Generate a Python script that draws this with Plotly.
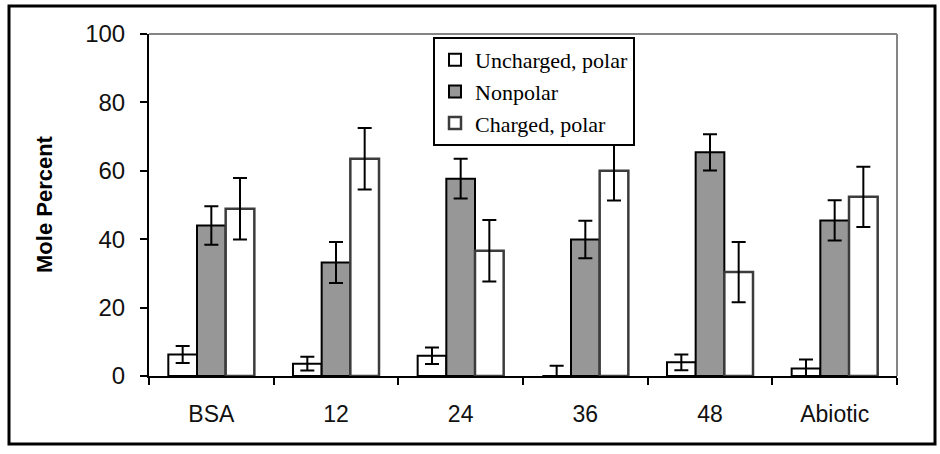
import plotly.graph_objects as go

categories = ["BSA", "12", "24", "36", "48", "Abiotic"]

uncharged = [6.3, 3.6, 5.9, 0.0, 4.0, 2.2]
uncharged_err = [2.5, 2.0, 2.4, 3.0, 2.3, 2.6]

nonpolar = [44.0, 33.2, 57.7, 39.9, 65.4, 45.5]
nonpolar_err = [5.6, 6.0, 5.8, 5.5, 5.3, 5.9]

charged = [48.9, 63.5, 36.6, 60.0, 30.4, 52.4]
charged_err = [9.0, 9.0, 9.0, 8.7, 8.8, 8.8]

y_ticks = [0, 20, 40, 60, 80, 100]

# figure geometry (px)
W, H = 940, 454
L, R, T, B = 149, 43, 34, 78
pw, ph = W - L - R, H - T - B

def px_x(x):
    return (x - L) / pw

def px_y(y):
    return (H - B - y) / ph

err_style = dict(type="data", visible=True, color="black", thickness=2, width=7)

fig = go.Figure()
fig.add_trace(go.Bar(
    name="Uncharged, polar", x=categories, y=uncharged,
    marker=dict(color="white", line=dict(color="black", width=2)),
    error_y=dict(array=uncharged_err, **err_style),
))
fig.add_trace(go.Bar(
    name="Nonpolar", x=categories, y=nonpolar,
    marker=dict(color="#979797", line=dict(color="black", width=2)),
    error_y=dict(array=nonpolar_err, **err_style),
))
fig.add_trace(go.Bar(
    name="Charged, polar", x=categories, y=charged,
    marker=dict(color="white", line=dict(color="#3c3c3c", width=2.5)),
    error_y=dict(array=charged_err, **err_style),
))

fig.update_layout(
    width=W, height=H,
    margin=dict(l=L, r=R, t=T, b=B, pad=0),
    paper_bgcolor="white", plot_bgcolor="white",
    barmode="group", bargap=0.31, bargroupgap=0,
    showlegend=True,
    legend=dict(
        x=px_x(433), y=px_y(37), xanchor="left", yanchor="top",
        bgcolor="white", bordercolor="black", borderwidth=2,
        font=dict(family="Liberation Serif", size=22, color="black"),
        itemwidth=30, tracegroupgap=0,
    ),
    font=dict(family="Liberation Sans", color="black"),
)

fig.update_xaxes(
    type="category", showline=True, linecolor="black", linewidth=2,
    ticks="outside", tickson="boundaries", ticklen=7, tickwidth=2, tickcolor="black",
    tickfont=dict(family="Liberation Sans", size=23, color="#111111"),
    ticklabelstandoff=16, showgrid=False, zeroline=False,
)
fig.update_yaxes(
    range=[0, 100], tickvals=y_ticks, ticktext=[str(v) for v in y_ticks],
    showline=True, linecolor="black", linewidth=2,
    ticks="outside", ticklen=7, tickwidth=2, tickcolor="black",
    tickfont=dict(family="Liberation Sans", size=24, color="#111111"),
    ticklabelstandoff=10, showgrid=False, zeroline=False,
)

# y-axis title
fig.add_annotation(
    text="<b>Mole Percent</b>", xref="paper", yref="paper",
    x=px_x(44), y=px_y(204), textangle=-90, showarrow=False,
    xanchor="center", yanchor="middle",
    font=dict(family="Liberation Sans", size=22, color="black"),
)

# gray plot border (top and right)
fig.add_shape(type="line", xref="paper", yref="paper", x0=0, x1=1, y0=1, y1=1,
              line=dict(color="#858585", width=2))
fig.add_shape(type="line", xref="paper", yref="paper", x0=1, x1=1, y0=0, y1=1,
              line=dict(color="#858585", width=2))

# outer black frame
fig.add_shape(type="rect", xref="paper", yref="paper",
              x0=px_x(9), x1=px_x(935), y0=px_y(444), y1=px_y(6),
              line=dict(color="black", width=3), fillcolor="rgba(0,0,0,0)")

fig.write_html("out.html")
